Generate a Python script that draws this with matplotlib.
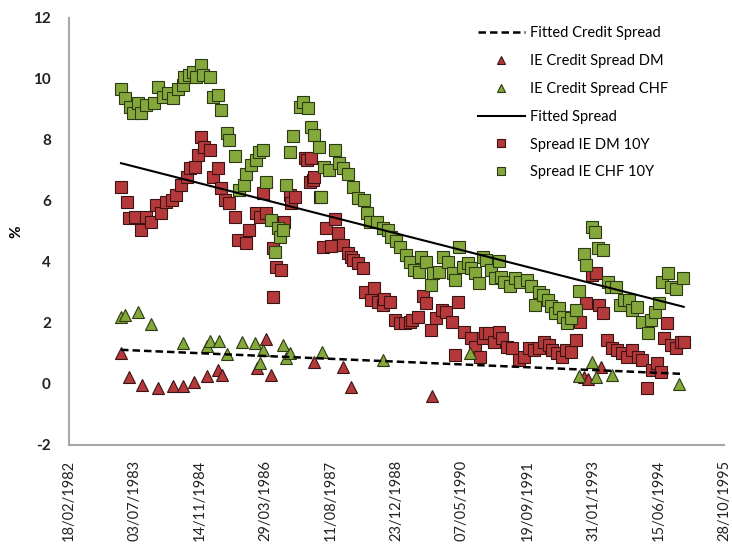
import numpy as np
import matplotlib
matplotlib.use('Agg')
import matplotlib.pyplot as plt
import matplotlib.dates as mdates
import pandas as pd

plt.rcParams['font.family'] = ['Lato', 'DejaVu Sans']
plt.rcParams['axes.unicode_minus'] = False

# Spread IE DM 10Y (red squares)
dm10_dates = ['1983-03-22','1983-05-03','1983-05-20','1983-07-04','1983-08-23','1983-10-01','1983-11-09','1983-12-15',
              '1984-01-24','1984-03-02','1984-04-11','1984-05-16','1984-06-25','1984-08-03','1984-08-26','1984-10-04',
              '1984-10-27','1984-11-23','1984-12-18','1985-01-27','1985-02-23','1985-04-01','1985-04-24','1985-05-20',
              '1985-06-25','1985-08-06','1985-09-02','1985-11-03','1985-11-26','1986-01-17','1986-02-13','1986-03-08',
              '1986-04-04','1986-05-23','1986-05-26','1986-06-18','1986-07-24','1986-08-20','1986-10-01','1986-10-08',
              '1986-11-06','1987-01-21','1987-02-06','1987-03-02','1987-03-12','1987-03-25','1987-04-07','1987-05-16',
              '1987-06-12','1987-07-07','1987-08-13','1987-09-08','1987-10-04','1987-11-09','1987-12-18','1988-01-14',
              '1988-01-24','1988-03-05','1988-04-11','1988-04-24','1988-06-15','1988-07-04','1988-08-06','1988-09-12',
              '1988-09-22','1988-11-03','1988-12-08','1989-01-17','1989-02-23','1989-04-04','1989-04-21','1989-06-05',
              '1989-07-11','1989-08-06','1989-09-15','1989-10-21','1989-12-02','1990-01-07','1990-02-16','1990-03-12',
              '1990-04-07','1990-05-26','1990-07-17','1990-08-13','1990-09-18','1990-10-11','1990-10-27','1990-12-02',
              '1991-01-07','1991-02-13','1991-03-08','1991-04-17','1991-05-23','1991-07-14','1991-08-23','1991-10-01',
              '1991-11-09','1991-12-15','1992-01-24','1992-03-02','1992-03-25','1992-05-03','1992-06-12','1992-07-07',
              '1992-08-13','1992-09-22','1992-10-27','1992-12-08','1993-01-24','1993-02-20','1993-03-15','1993-04-17',
              '1993-05-20','1993-06-25','1993-08-06','1993-09-12','1993-10-21','1993-11-26','1994-01-07','1994-02-13',
              '1994-03-18','1994-04-28','1994-06-05','1994-07-01','1994-07-24','1994-08-20','1994-09-15','1994-10-24',
              '1994-12-02','1994-12-25']
dm10_vals = [6.45,5.98,5.43,5.49,5.05,5.49,5.32,5.87,
             5.60,5.98,6.03,6.20,6.52,6.80,7.07,7.13,
             7.51,8.11,7.78,7.67,6.80,7.07,6.42,6.03,
             5.92,5.49,4.72,4.61,5.05,5.60,5.49,6.25,
             5.60,4.45,2.84,3.85,3.74,5.32,6.20,5.92,
             6.14,7.40,7.34,6.63,7.40,6.69,6.80,6.14,
             4.50,5.10,4.52,5.40,4.94,4.56,4.28,4.17,
             4.07,3.96,3.79,3.03,2.75,3.14,2.70,2.59,
             2.78,2.70,2.10,1.99,1.99,2.04,2.10,2.21,
             2.87,2.65,1.77,2.15,2.43,2.37,2.04,0.95,
             2.70,1.71,1.50,1.22,0.90,1.50,1.66,1.66,
             1.39,1.71,1.50,1.22,1.17,0.79,0.90,1.17,
             1.11,1.17,1.39,1.28,1.11,1.01,0.90,1.11,
             1.06,1.44,2.04,2.65,3.57,3.63,2.59,2.32,
             1.44,1.17,1.11,1.01,0.90,1.11,0.90,0.79,
             -0.14,0.46,0.68,0.40,1.50,1.99,1.28,1.17,
             1.39,1.39]

# Spread IE CHF 10Y (green squares)
chf10_dates = ['1983-03-22','1983-04-24','1983-06-02','1983-06-18','1983-07-27','1983-08-23','1983-10-01','1983-11-26',
               '1984-01-01','1984-02-06','1984-03-15','1984-04-21','1984-06-02','1984-07-04','1984-07-11','1984-08-20',
               '1984-09-22','1984-10-17','1984-11-23','1984-12-08','1985-01-27','1985-02-23','1985-04-01','1985-04-24',
               '1985-06-05','1985-06-22','1985-08-06','1985-09-08','1985-10-14','1985-11-03','1985-12-05','1986-01-14',
               '1986-02-09','1986-03-08','1986-04-04','1986-05-13','1986-06-08','1986-07-01','1986-07-14','1986-08-06',
               '1986-09-05','1986-10-01','1986-10-24','1986-12-15','1987-01-11','1987-02-16','1987-03-12','1987-04-01',
               '1987-05-09','1987-05-26','1987-06-22','1987-07-27','1987-09-08','1987-10-11','1987-11-09','1987-12-18',
               '1988-01-24','1988-03-05','1988-04-17','1988-05-13','1988-06-02','1988-07-24','1988-09-08','1988-10-17',
               '1988-11-13','1988-12-22','1989-01-17','1989-03-02','1989-04-04','1989-05-03','1989-06-12','1989-07-01',
               '1989-08-09','1989-09-15','1989-09-25','1989-11-13','1989-12-12','1990-01-21','1990-02-26','1990-03-12',
               '1990-04-14','1990-05-13','1990-06-22','1990-07-17','1990-08-13','1990-09-15','1990-10-14','1990-11-09',
               '1990-12-15','1991-01-11','1991-02-13','1991-03-02','1991-03-25','1991-05-06','1991-06-12','1991-07-21',
               '1991-09-12','1991-10-17','1991-11-13','1991-12-18','1992-01-14','1992-02-23','1992-03-18','1992-04-14',
               '1992-05-20','1992-06-15','1992-07-14','1992-08-20','1992-09-22','1992-10-17','1992-11-20','1992-12-12',
               '1993-01-24','1993-02-13','1993-03-08','1993-04-17','1993-05-23','1993-06-18','1993-07-27','1993-08-23',
               '1993-09-22','1993-11-03','1993-11-26','1994-01-04','1994-02-13','1994-03-25','1994-04-21','1994-05-16',
               '1994-06-22','1994-07-14','1994-08-26','1994-09-22','1994-10-27','1994-12-18']
chf10_vals = [9.66,9.39,9.09,8.90,9.22,8.87,9.15,9.20,
              9.73,9.42,9.53,9.37,9.66,9.80,10.06,10.13,
              10.24,10.07,10.46,10.13,10.06,9.40,9.48,8.98,
              8.24,8.00,7.48,6.36,6.52,6.90,7.18,7.34,
              7.62,7.67,6.63,5.38,4.34,5.10,4.83,5.05,
              6.52,7.62,8.13,9.07,9.26,9.04,8.44,8.16,
              7.78,6.14,7.12,7.02,7.67,7.24,7.07,6.90,
              6.47,6.09,6.03,5.60,5.32,5.32,5.10,5.05,
              4.83,4.70,4.50,4.23,4.01,3.74,3.68,4.17,
              4.01,3.25,3.63,3.68,4.17,4.01,3.63,3.41,
              4.50,3.85,3.96,3.79,3.63,3.30,4.17,4.07,
              3.74,3.47,4.04,3.52,3.36,3.21,3.47,3.36,
              3.41,3.21,2.59,3.03,2.92,2.75,2.56,2.32,
              2.48,2.21,1.99,2.15,2.43,3.06,4.26,3.90,
              5.16,4.99,4.45,4.39,3.36,3.19,3.19,2.59,
              2.75,2.75,2.43,2.53,2.04,1.66,2.10,2.37,
              2.65,3.36,3.63,3.19,3.13,3.47]

# IE Credit Spread DM (red triangles)
cs_dm_dates = ['1983-03-22','1983-05-23','1983-08-30','1984-01-01','1984-04-24','1984-07-04','1984-10-01','1985-01-07',
               '1985-04-01','1985-05-03','1986-01-24','1986-04-04','1986-05-13','1987-04-07','1987-11-09','1988-01-14',
               '1989-09-18','1992-11-23','1992-12-25','1993-04-01']
cs_dm_vals = [1.00,0.24,-0.03,-0.14,-0.07,-0.07,0.08,0.26,
              0.46,0.30,0.51,1.47,0.30,0.73,0.55,-0.09,
              -0.40,0.24,0.15,0.57]

# IE Credit Spread CHF (green triangles)
cs_chf_dates = ['1983-03-22','1983-04-24','1983-07-27','1983-11-03','1984-07-04','1985-01-07','1985-02-02','1985-04-07',
                '1985-06-08','1985-10-04','1986-01-07','1986-02-13','1986-03-08','1986-08-06','1986-09-02','1986-10-04',
                '1987-06-05','1988-09-12','1990-07-11','1992-10-17','1993-01-21','1993-02-23','1993-06-22','1994-11-20']
cs_chf_vals = [2.21,2.26,2.37,1.97,1.33,1.25,1.42,1.42,
               0.98,1.39,1.33,0.68,1.11,1.28,0.84,1.03,
               1.06,0.79,1.00,0.25,0.73,0.24,0.28,0.00]

# fitted trend lines (first and last date)
fit_dates = ['1983-03-22','1994-12-25']
fit_spread = [7.24, 2.53]
fit_credit = [1.12, 0.33]

tick_dates = ['1982-02-18','1983-07-03','1984-11-14','1986-03-29','1987-08-11','1988-12-23',
              '1990-05-07','1991-09-19','1993-01-31','1994-06-15','1995-10-28']

red = '#b5393a'
green = '#84a83c'
red_edge = '#3a1414'
green_edge = '#2c3a12'

fig = plt.figure(figsize=(7.32, 5.45), dpi=100)
ax = fig.add_axes([0.0943, 0.1835, 0.8947, 0.7835])

ax.plot(pd.to_datetime(fit_dates), fit_credit, color='black', lw=1.8, ls=(0, (3, 1.6)),
        label='Fitted Credit Spread', zorder=4)
ax.plot(pd.to_datetime(cs_dm_dates), cs_dm_vals, ls='none', marker='^', ms=8.5, mfc=red,
        mec=red_edge, mew=0.8, label='IE Credit Spread DM', zorder=3)
ax.plot(pd.to_datetime(cs_chf_dates), cs_chf_vals, ls='none', marker='^', ms=8.5, mfc=green,
        mec=green_edge, mew=0.8, label='IE Credit Spread CHF', zorder=3)
ax.plot(pd.to_datetime(fit_dates), fit_spread, color='black', lw=1.5,
        label='Fitted Spread', zorder=4)
ax.plot(pd.to_datetime(dm10_dates), dm10_vals, ls='none', marker='s', ms=8, mfc=red,
        mec=red_edge, mew=0.8, label='Spread IE DM 10Y', zorder=2)
ax.plot(pd.to_datetime(chf10_dates), chf10_vals, ls='none', marker='s', ms=8, mfc=green,
        mec=green_edge, mew=0.8, label='Spread IE CHF 10Y', zorder=2)

ticks = pd.to_datetime(tick_dates)
ax.set_xlim(ticks[0], ticks[-1])
ax.set_xticks(ticks)
ax.xaxis.set_major_formatter(mdates.DateFormatter('%d/%m/%Y'))
ax.set_ylim(-2, 12)
ax.set_yticks(np.arange(-2, 13, 2))

for s in ['top', 'right']:
    ax.spines[s].set_visible(False)
for s in ['left', 'bottom']:
    ax.spines[s].set_color('#a8a8a8')
    ax.spines[s].set_linewidth(1.5)

ax.tick_params(axis='both', length=0, colors='#222222')
ax.tick_params(axis='x', pad=11, labelsize=10.5, labelrotation=90)
ax.tick_params(axis='y', pad=13, labelsize=11)
for lab in ax.get_yticklabels():
    lab.set_fontweight('bold')
ax.set_ylabel('%', fontsize=11, fontweight='bold', labelpad=7)

ax.legend(loc='upper left', bbox_to_anchor=(0.653, 0.952), bbox_transform=fig.transFigure,
          frameon=False, fontsize=10.5, handlelength=3.2, handletextpad=0.4,
          labelspacing=0.95, borderpad=0, borderaxespad=0, markerscale=0.75)

fig.savefig('out.png', dpi=100)
